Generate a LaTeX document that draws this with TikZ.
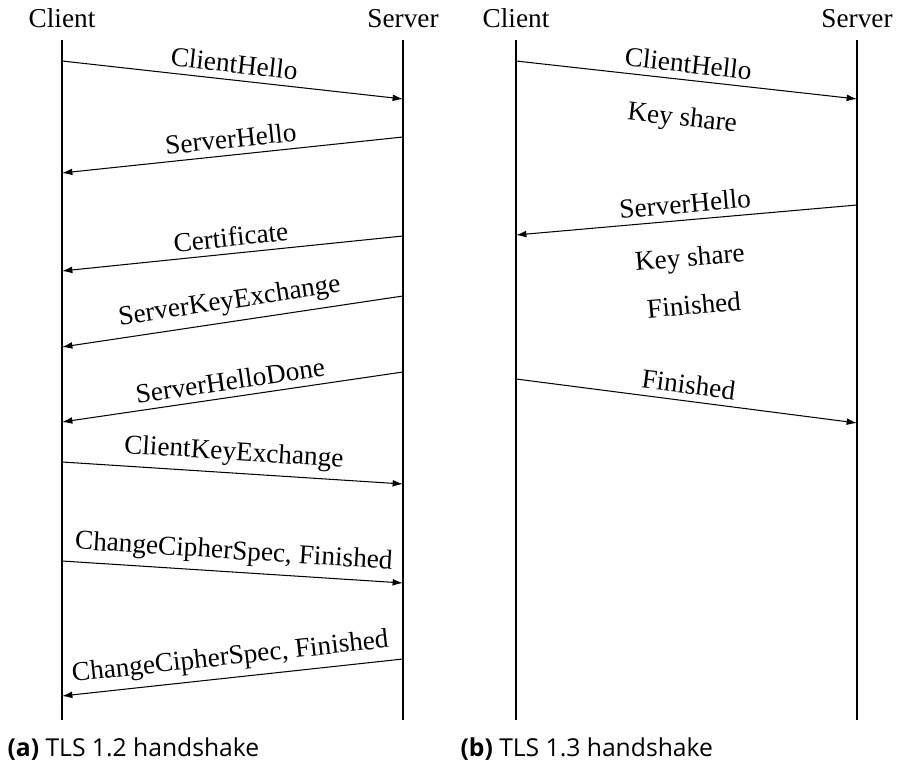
\documentclass[tikz,border=0pt]{standalone}
\usepackage{fontspec}
\setmainfont{Liberation Serif}
\newfontfamily\capfont{Open Sans}
\usetikzlibrary{arrows.meta}

\begin{document}
\begin{tikzpicture}[x=0.385pt,y=-0.385pt,
    font=\fontsize{10.5}{12.5}\selectfont,
    msg/.style={-{Latex[length=4pt,width=2.6pt]}},
    lbl/.style={midway,above,sloped,inner sep=2.5pt},
    sub/.style={midway,below=#1,sloped}]
  \useasboundingbox (0,0) rectangle (897,766);
  %% Draw the lifelines
  \node[anchor=base] (C12) at (62,28) {Client};
  \node[anchor=base] (S12) at (403,28) {Server};
  \node[anchor=base] (C13) at (516,28) {Client};
  \node[anchor=base] (S13) at (857,28) {Server};
  \coordinate (C12t) at (62,40);  \coordinate (C12b) at (62,720);
  \coordinate (S12t) at (403,40); \coordinate (S12b) at (403,720);
  \coordinate (C13t) at (516,40); \coordinate (C13b) at (516,720);
  \coordinate (S13t) at (857,40); \coordinate (S13b) at (857,720);
  \draw (C12t) -- (C12b);
  \draw (S12t) -- (S12b);
  \draw (C13t) -- (C13b);
  \draw (S13t) -- (S13b);
  %% Draw the end points of the messages
  \coordinate (a1) at (62,61);   \coordinate (b1) at (403,99);
  \coordinate (a2) at (403,137); \coordinate (b2) at (62,173);
  \coordinate (a3) at (403,236); \coordinate (b3) at (62,271);
  \coordinate (a4) at (403,296); \coordinate (b4) at (62,347);
  \coordinate (a5) at (403,372); \coordinate (b5) at (62,422);
  \coordinate (a6) at (62,462);  \coordinate (b6) at (403,484);
  \coordinate (a7) at (62,561);  \coordinate (b7) at (403,583);
  \coordinate (a8) at (403,659); \coordinate (b8) at (62,696);
  \coordinate (p1) at (516,61);  \coordinate (q1) at (857,99);
  \coordinate (p2) at (857,205); \coordinate (q2) at (516,235);
  \coordinate (p3) at (516,379); \coordinate (q3) at (857,423);
  %% Draw the messages
  \begin{scope}[every path/.style={msg}]
    \draw (a1) -- (b1) node[lbl] (m1) {ClientHello};
    \draw (a2) -- (b2) node[lbl] (m2) {ServerHello};
    \draw (a3) -- (b3) node[lbl] (m3) {Certificate};
    \draw (a4) -- (b4) node[lbl] (m4) {ServerKeyExchange};
    \draw (a5) -- (b5) node[lbl] (m5) {ServerHelloDone};
    \draw (a6) -- (b6) node[lbl] (m6) {ClientKeyExchange};
    \draw (a7) -- (b7) node[lbl] (m7) {ChangeCipherSpec, Finished};
    \draw (a8) -- (b8) node[lbl] (m8) {ChangeCipherSpec, Finished};
    \draw (p1) -- (q1) node[lbl] (n1) {ClientHello}
      node[sub=7pt] (n1k) {Key share};
    \draw (p2) -- (q2) node[lbl] (n2) {ServerHello}
      node[sub=7pt] (n2k) {Key share}
      node[sub=25.5pt] (n2f) {Finished};
    \draw (p3) -- (q3) node[lbl] (n3) {Finished};
  \end{scope}
  %% Draw the captions
  \node[anchor=base west,inner sep=0pt,font=\capfont\fontsize{9.5}{11}\selectfont] (capa)
    at (7,757) {\textbf{(a)} TLS 1.2 handshake};
  \node[anchor=base west,inner sep=0pt,font=\capfont\fontsize{9.5}{11}\selectfont] (capb)
    at (460,757) {\textbf{(b)} TLS 1.3 handshake};
\end{tikzpicture}
\end{document}
